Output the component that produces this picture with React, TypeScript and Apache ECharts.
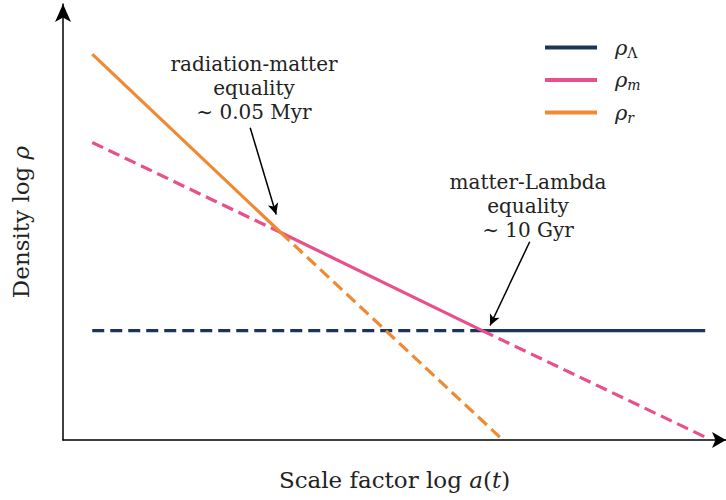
import React, { useEffect, useRef } from "react";
import * as echarts from "echarts";

// Line segments in (log a, log rho) units
const rhoLambdaDashed = [[0.45, 2.6], [6.45, 2.6]];
const rhoLambdaSolid = [[6.45, 2.6], [9.88, 2.6]];
const rhoMDashedEarly = [[0.45, 7.07], [3.35, 4.93]];
const rhoMSolid = [[3.35, 4.93], [6.45, 2.6]];
const rhoMDashedLate = [[6.45, 2.6], [9.88, 0.07]];
const rhoRSolid = [[0.45, 9.17], [3.35, 4.93]];
const rhoRDashed = [[3.35, 4.93], [6.72, 0.07]];

// annotation arrows [from, to]
const arrowRadMatter = [[2.88, 7.42], [3.28, 5.36]];
const arrowMatLambda = [[7.18, 4.71], [6.57, 2.72]];

const annotRadMatter = ["radiation-matter", "equality", "\u223C 0.05 Myr"];
const annotMatLambda = ["matter-Lambda", "equality", "\u223C 10 Gyr"];

const seriesNames = ["rhoL", "rhoM", "rhoR"];
const seriesSubs = ["\u039B", "m", "r"];

const NAVY = "#1b345e";
const PINK = "#e9508b";
const ORANGE = "#ef8a32";
const FONT = "DejaVu Serif";
const DASH = [12, 6];

export default function App() {
  const ref = useRef<HTMLDivElement>(null);
  useEffect(() => {
    if (!ref.current) return;
    const chart = echarts.init(ref.current, null, { renderer: "svg" });
    const seg = (name: string, data: number[][], color: string, dashed: boolean, z: number) => ({
      type: "line",
      name,
      data,
      showSymbol: false,
      symbol: "none",
      silent: true,
      z,
      itemStyle: { color },
      lineStyle: { color, width: 3.2, type: dashed ? DASH : "solid" },
    });
    const arrow = (pts: number[][]) => [{ coord: pts[0] }, { coord: pts[1] }];
    const subsMap: Record<string, string> = {};
    seriesNames.forEach((n, i) => (subsMap[n] = seriesSubs[i]));
    chart.setOption({
      animation: false,
      grid: { left: 63, right: 0, top: 4, bottom: 60, outerBoundsMode: "none", containLabel: false },
      xAxis: {
        type: "value",
        min: 0,
        max: 10.2,
        name: "{a|Scale factor log }{i|a}{a|(}{i|t}{a|)}",
        nameLocation: "middle",
        nameGap: 28,
        nameTextStyle: {
          rich: {
            a: { fontFamily: FONT, fontSize: 23, color: "#222" },
            i: { fontFamily: FONT, fontSize: 23, fontStyle: "italic", color: "#222" },
          },
        },
        axisLine: {
          show: true,
          symbol: ["none", "arrow"],
          symbolSize: [12, 14],
          lineStyle: { color: "#000", width: 1.5 },
        },
        axisTick: { show: false },
        axisLabel: { show: false },
        splitLine: { show: false },
      },
      yAxis: {
        type: "value",
        min: 0,
        max: 10.36,
        name: "{a|Density log }{i|\u03C1}",
        nameLocation: "middle",
        nameRotate: 90,
        nameGap: 31,
        nameTextStyle: {
          rich: {
            a: { fontFamily: FONT, fontSize: 23, color: "#222" },
            i: { fontFamily: FONT, fontSize: 23, fontStyle: "italic", color: "#222" },
          },
        },
        axisLine: {
          show: true,
          symbol: ["none", "arrow"],
          symbolSize: [12, 18],
          lineStyle: { color: "#000", width: 1.5 },
        },
        axisTick: { show: false },
        axisLabel: { show: false },
        splitLine: { show: false },
      },
      legend: {
        orient: "vertical",
        left: 540,
        top: 32,
        itemWidth: 52,
        itemHeight: 4,
        itemGap: 10,
        icon: "rect",
        data: seriesNames,
        selectedMode: false,
        formatter: (name: string) =>
          name === "rhoL" ? `{r|\u03C1}{su|${subsMap[name]}}` : `{r|\u03C1}{s|${subsMap[name]}}`,
        textStyle: {
          rich: {
            r: { fontFamily: FONT, fontSize: 21, fontStyle: "italic", color: "#222", lineHeight: 24, padding: [0, 0, 0, 13] },
            s: { fontFamily: FONT, fontSize: 14, fontStyle: "italic", color: "#222", verticalAlign: "bottom", lineHeight: 14 },
            su: { fontFamily: FONT, fontSize: 14, color: "#222", verticalAlign: "bottom", lineHeight: 14 },
          },
        },
      },
      graphic: [
        {
          type: "text",
          left: 254 - 90,
          top: 52,
          style: {
            text: annotRadMatter.join("\n"),
            font: `20px '${FONT}'`,
            lineHeight: 24,
            fill: "#222",
            textAlign: "center",
            width: 180,
          },
        },
        {
          type: "text",
          left: 528 - 90,
          top: 170,
          style: {
            text: annotMatLambda.join("\n"),
            font: `20px '${FONT}'`,
            lineHeight: 24,
            fill: "#222",
            textAlign: "center",
            width: 180,
          },
        },
      ],
      series: [
        seg("rhoL", rhoLambdaSolid, NAVY, false, 2),
        seg("rhoL", rhoLambdaDashed, NAVY, true, 2),
        seg("rhoM", rhoMSolid, PINK, false, 3),
        seg("rhoM", rhoMDashedEarly, PINK, true, 3),
        seg("rhoM", rhoMDashedLate, PINK, true, 3),
        seg("rhoR", rhoRSolid, ORANGE, false, 4),
        seg("rhoR", rhoRDashed, ORANGE, true, 4),
        {
          type: "line",
          name: "annotations",
          data: [],
          silent: true,
          markLine: {
            silent: true,
            symbol: ["none", "arrow"],
            symbolSize: [8, 11],
            label: { show: false },
            lineStyle: { color: "#000", width: 1.5, type: "solid" },
            data: [arrow(arrowRadMatter), arrow(arrowMatLambda)],
          },
        },
      ],
    });
    return () => chart.dispose();
  }, []);
  return <div ref={ref} style={{ width: 726, height: 500, position: "absolute", left: 0, top: 0 }} />;
}
